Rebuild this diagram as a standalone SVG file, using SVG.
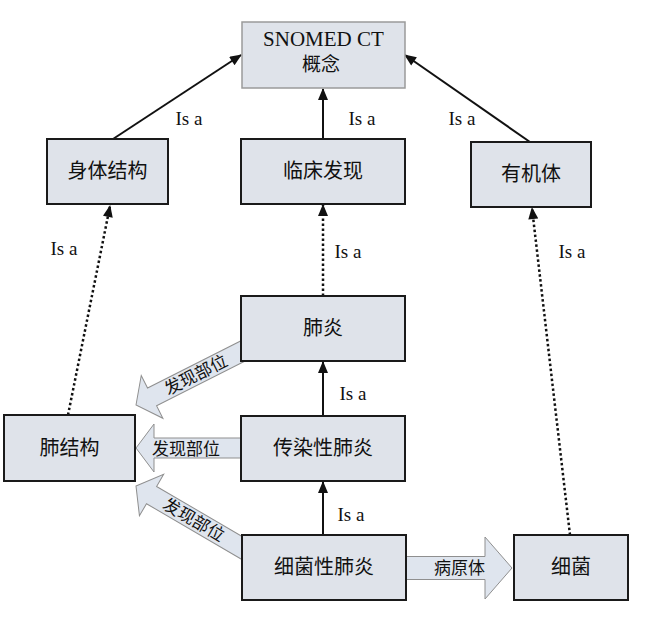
<svg xmlns="http://www.w3.org/2000/svg" width="656" height="622" viewBox="0 0 656 622">
<defs>
<marker id="ah" viewBox="0 0 12 10" refX="11" refY="5" markerWidth="13" markerHeight="10" markerUnits="userSpaceOnUse" orient="auto">
<path d="M0,0 L12,5 L0,10 Z" fill="#111"/>
</marker>
<style>
.box{fill:#dfe3ea;stroke:#1a1a1a;stroke-width:2}
.top{fill:#dfe3ea;stroke:#9a9a9a;stroke-width:1.5}
.t{font-family:"Liberation Serif","Noto Sans CJK SC",serif;font-size:20px;fill:#111;text-anchor:middle}
.isa{font-family:"Liberation Serif",serif;font-size:19px;fill:#111;text-anchor:middle}
.lab{font-family:"Liberation Serif","Noto Sans CJK SC",serif;font-size:17px;fill:#111;text-anchor:middle}
.solid{stroke:#111;stroke-width:2;fill:none}
.dot{stroke:#111;stroke-width:2.5;fill:none;stroke-dasharray:2.5 2.5}
.blk{fill:#dfe5ee;stroke:#8f8f8f;stroke-width:1}
</style>
</defs>
<rect width="656" height="622" fill="#fff"/>
<g id="connectors">
<g id="arrow-upper" transform="translate(136,405) rotate(-26.8)">
<polygon class="blk" points="0,0 18,-24 18,-10 125,-10 125,10 18,10 18,24"/>
<text class="lab" x="67" y="6">发现部位</text>
</g>
<g id="arrow-middle" transform="translate(136,448)">
<polygon class="blk" points="0,0 18,-24 18,-10 112,-10 112,10 18,10 18,24"/>
<text class="lab" x="50" y="7">发现部位</text>
</g>
<g id="arrow-lower" transform="translate(136,486) rotate(30.3)">
<polygon class="blk" points="0,0 18,-24 18,-10 130,-10 130,10 18,10 18,24"/>
<text class="lab" x="67" y="6">发现部位</text>
</g>
<g id="arrow-pathogen" transform="translate(512,568) rotate(180)">
<polygon class="blk" points="0,0 27,-31 27,-11.5 112,-11.5 112,11.5 27,11.5 27,31"/>
</g>
<text class="lab" x="459.5" y="574">病原体</text>
<line class="solid" x1="113" y1="139" x2="241" y2="55" marker-end="url(#ah)"/>
<line class="solid" x1="530" y1="142" x2="405" y2="55" marker-end="url(#ah)"/>
<line class="solid" x1="323" y1="139" x2="323" y2="89" marker-end="url(#ah)"/>
<line class="dot" x1="68" y1="415" x2="110" y2="206" marker-end="url(#ah)"/>
<line class="dot" x1="323" y1="296" x2="323" y2="205" marker-end="url(#ah)"/>
<line class="dot" x1="570" y1="535" x2="532" y2="208" marker-end="url(#ah)"/>
<line class="solid" x1="323" y1="416" x2="323" y2="362" marker-end="url(#ah)"/>
<line class="solid" x1="323" y1="535" x2="323" y2="482" marker-end="url(#ah)"/>
<text class="isa" x="189" y="125">Is a</text>
<text class="isa" x="362" y="125">Is a</text>
<text class="isa" x="462" y="125">Is a</text>
<text class="isa" x="64" y="255">Is a</text>
<text class="isa" x="348" y="258">Is a</text>
<text class="isa" x="572" y="258">Is a</text>
<text class="isa" x="353" y="400">Is a</text>
<text class="isa" x="351" y="521">Is a</text>
</g>
<g id="snomed"><rect class="top" x="242" y="22" width="163" height="66"/><text class="t" x="323.5" y="46" style="font-size:21px">SNOMED CT</text><text class="t" x="321" y="71" style="font-size:19px">概念</text></g>
<g id="body-structure"><rect class="box" x="47" y="139" width="121" height="65"/><text class="t" x="107.5" y="178">身体结构</text></g>
<g id="clinical-finding"><rect class="box" x="241" y="139" width="164" height="65"/><text class="t" x="323" y="178">临床发现</text></g>
<g id="organism"><rect class="box" x="471" y="142" width="120" height="65"/><text class="t" x="531" y="181">有机体</text></g>
<g id="pneumonia"><rect class="box" x="241" y="296" width="164" height="65"/><text class="t" x="323" y="335">肺炎</text></g>
<g id="infectious-pneumonia"><rect class="box" x="241" y="416" width="164" height="65"/><text class="t" x="323" y="455">传染性肺炎</text></g>
<g id="lung-structure"><rect class="box" x="4" y="415" width="131" height="66"/><text class="t" x="69.5" y="455">肺结构</text></g>
<g id="bacterial-pneumonia"><rect class="box" x="242" y="535" width="164" height="65"/><text class="t" x="324" y="574">细菌性肺炎</text></g>
<g id="bacteria"><rect class="box" x="514" y="535" width="114" height="65"/><text class="t" x="571" y="574">细菌</text></g>
</svg>
